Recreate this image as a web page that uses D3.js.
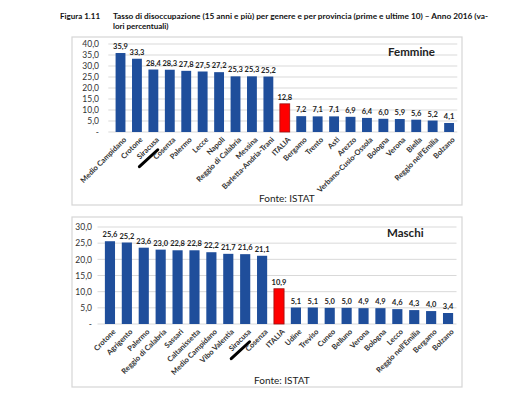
<!DOCTYPE html>
<html><head><meta charset="utf-8">
<script src="https://cdn.jsdelivr.net/npm/d3@7"></script>
<style>
body{margin:0;background:#fff;}
svg{display:block;font-family:Lato,"Open Sans",sans-serif;}
</style></head>
<body><svg id="c" width="531" height="403"></svg>
<script>
const femCategories = ["Medio Campidano","Crotone","Siracusa","Cosenza","Palermo","Lecce","Napoli","Reggio di Calabria","Messina","Barletta-Andria-Trani","ITALIA","Bergamo","Trento","Asti","Arezzo","Verbano-Cusio-Ossola","Bologna","Verona","Biella","Reggio nell'Emilia","Bolzano"];
const femValues = [35.9,33.3,28.4,28.3,27.8,27.5,27.2,25.3,25.3,25.2,12.8,7.2,7.1,7.1,6.9,6.4,6.0,5.9,5.6,5.2,4.1];
const femTicks = [0,5,10,15,20,25,30,35,40];

const masCategories = ["Crotone","Agrigento","Palermo","Reggio di Calabria","Sassari","Caltanissetta","Medio Campidano","Vibo Valentia","Siracusa","Cosenza","ITALIA","Udine","Treviso","Cuneo","Belluno","Verona","Bologna","Lecco","Reggio nell'Emilia","Bergamo","Bolzano"];
const masValues = [25.6,25.2,23.6,23.0,22.8,22.8,22.2,21.7,21.6,21.1,10.9,5.1,5.1,5.0,5.0,4.9,4.9,4.6,4.3,4.0,3.4];
const masTicks = [0,5,10,15,20,25,30];

const titleLabel = "Figura 1.11";
const titleLine1 = "Tasso di disoccupazione (15 anni e più) per genere e per provincia (prime e ultime 10) – Anno 2016 (va-";
const titleLine2 = "lori percentuali)";
const sourceText = "Fonte: ISTAT";

const svg = d3.select("#c");
const fmt = v => v === 0 ? "-" : d3.format(".1f")(v).replace(".", ",");

svg.append("text").attr("x",60).attr("y",19).attr("font-size",8).attr("font-weight","bold").attr("fill","#111").text(titleLabel);
svg.append("text").attr("x",113).attr("y",19).attr("font-size",8).attr("font-weight","bold").attr("fill","#111").attr("textLength",375).attr("lengthAdjust","spacingAndGlyphs").text(titleLine1);
svg.append("text").attr("x",113).attr("y",29).attr("font-size",8).attr("font-weight","bold").attr("fill","#111").text(titleLine2);

function panel(cfg){
  const g = svg.append("g");
  g.append("rect").attr("x",cfg.box[0]).attr("y",cfg.box[1]).attr("width",cfg.box[2]-cfg.box[0]).attr("height",cfg.box[3]-cfg.box[1])
    .attr("fill","#fff").attr("stroke","#d6d6d6").attr("stroke-width",1.2);
  const x = d3.scaleBand().domain(cfg.cats).range(cfg.xr).paddingInner(0.4).paddingOuter(0.2);
  const y = d3.scaleLinear().domain([0, cfg.ticks[cfg.ticks.length-1]]).range(cfg.yr);
  // grid
  g.append("g").selectAll("line").data(cfg.ticks).join("line")
    .attr("x1",cfg.xr[0]-4).attr("x2",cfg.xr[1]).attr("y1",d=>y(d)).attr("y2",d=>y(d))
    .attr("stroke","#d9d9d9").attr("stroke-width",1);
  // y axis
  const ya = g.append("g").attr("transform",`translate(${cfg.tickX},0)`)
    .call(d3.axisLeft(y).tickValues(cfg.ticks).tickFormat(fmt).tickSize(0).tickPadding(0));
  ya.select(".domain").remove();
  ya.selectAll("text").attr("font-size",8.5).attr("fill","#333").attr("font-family","Lato,sans-serif");
  // bars
  g.append("g").selectAll("rect").data(cfg.vals).join("rect")
    .attr("x",(d,i)=>x(cfg.cats[i])).attr("width",x.bandwidth())
    .attr("y",d=>y(d)).attr("height",d=>y(0)-y(d))
    .attr("fill",(d,i)=>cfg.cats[i]==="ITALIA"?"#ff0000":"#1f4e9b")
    .attr("stroke",(d,i)=>cfg.cats[i]==="ITALIA"?"#9b1010":"none").attr("stroke-width",0.8);
  // value labels
  g.append("g").selectAll("text").data(cfg.vals).join("text")
    .attr("x",(d,i)=>x(cfg.cats[i])+x.bandwidth()/2).attr("y",d=>y(d)-4)
    .attr("text-anchor","middle").attr("font-size",7.5).attr("font-weight","bold").attr("fill","#222")
    .text(d=>fmt(d));
  // category labels
  const xl = g.append("g").selectAll("g").data(cfg.cats).join("g")
    .attr("transform",d=>`translate(${x(d)+x.bandwidth()/2+3},${y(0)+5}) rotate(-45)`);
  xl.append("text").attr("text-anchor","end").attr("dy","0.6em").attr("font-size",7.5).attr("font-weight","bold").attr("fill","#333").text(d=>d);
  xl.filter(d=>d==="Siracusa").append("line").attr("x1",-8).attr("x2",-33).attr("y1",10).attr("y2",9)
    .attr("stroke","#000").attr("stroke-width",3).attr("stroke-linecap","round");
  // panel title
  g.append("text").attr("x",cfg.titlePos[0]).attr("y",cfg.titlePos[1]).attr("font-size",11.5).attr("font-weight","bold").attr("fill","#222").text(cfg.title);
  g.append("text").attr("x",cfg.srcPos[0]).attr("y",cfg.srcPos[1]).attr("font-size",10).attr("fill","#222").text(sourceText);
}

panel({cats:femCategories, vals:femValues, ticks:femTicks, box:[72,37,462,205], xr:[112.3,457.3], yr:[132,44], tickX:99,
  title:"Femmine", titlePos:[388,56], srcPos:[259,202]});
panel({cats:masCategories, vals:masValues, ticks:masTicks, box:[72,217,462,387], xr:[101.5,456.5], yr:[324,227], tickX:92,
  title:"Maschi", titlePos:[387,237], srcPos:[254,384]});
</script></body></html>
